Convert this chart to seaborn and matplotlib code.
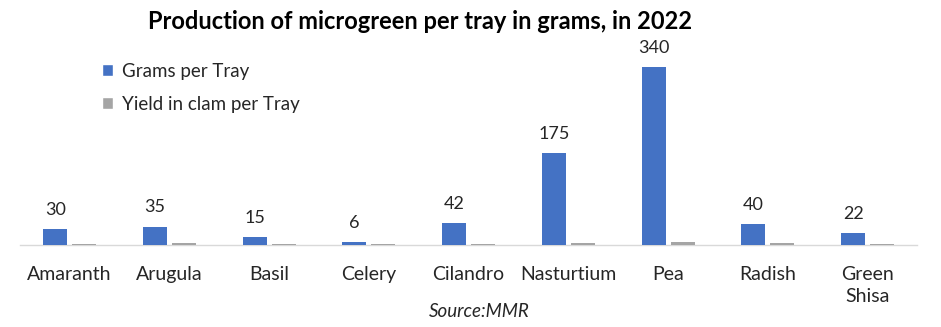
import matplotlib
matplotlib.use("Agg")
import matplotlib.pyplot as plt
import seaborn as sns
import pandas as pd

categories = ["Amaranth", "Arugula", "Basil", "Celery", "Cilandro",
              "Nasturtium", "Pea", "Radish", "Green\nShisa"]
grams_per_tray = [30, 35, 15, 6, 42, 175, 340, 40, 22]
yield_clam_per_tray = [2, 4, 2, 2, 2, 4, 6, 4, 2]
series_names = ["Grams per Tray", "Yield in clam per Tray"]

sns.set_theme(style="white")
plt.rcParams["font.family"] = ["Lato", "DejaVu Sans"]

df = pd.DataFrame({
    "category": categories * 2,
    "value": grams_per_tray + yield_clam_per_tray,
    "series": [series_names[0]] * len(categories) + [series_names[1]] * len(categories),
})

fig = plt.figure(figsize=(9.41, 3.27), dpi=100)
ax = fig.add_axes([0.021, 0.251, 0.954, 0.64])

sns.barplot(data=df, x="category", y="value", hue="series", order=categories,
            hue_order=series_names, palette=["#4472C4", "#A5A5A5"],
            width=0.58, gap=0.17, saturation=1, ax=ax, errorbar=None)
for container in ax.containers:
    for patch in container:
        patch.set_zorder(3)
        patch.set_linewidth(0)
for patch in ax.containers[1]:
    patch.set_antialiased(False)

for patch, val in zip(ax.containers[0], grams_per_tray):
    ax.annotate(f"{val}", (patch.get_x() + patch.get_width() / 2, patch.get_height()),
                xytext=(0, 8), textcoords="offset points", ha="center", va="bottom",
                fontsize=13, color="#262626")

ax.set_ylim(0, 400)
ax.set_xlim(-0.5, len(categories) - 0.5)
ax.set_xlabel("")
ax.set_ylabel("")
ax.set_yticks([])
for s in ["top", "right", "left"]:
    ax.spines[s].set_visible(False)
ax.spines["bottom"].set_color("#D9D9D9")
ax.spines["bottom"].set_linewidth(1)
ax.spines["bottom"].set_zorder(1)
ax.tick_params(axis="x", length=0, labelsize=14, colors="#262626", pad=15)
for lbl in ax.get_xticklabels():
    lbl.set_linespacing(1.35)
    lbl.set_verticalalignment("top")

leg = ax.legend(loc="upper left", bbox_to_anchor=(0.073, 0.95), frameon=False,
                fontsize=13.5, handlelength=0.6, handleheight=0.6,
                labelspacing=0.85, handletextpad=0.45)
for t in leg.get_texts():
    t.set_color("#262626")

fig.text(0.446, 0.935, "Production of microgreen per tray in grams, in 2022",
         ha="center", va="center", fontsize=17, fontweight="bold", color="#000000")
fig.text(0.509, 0.048, "Source:MMR", ha="center", va="center", fontsize=13.5,
         style="italic", color="#262626")

fig.savefig("out.png", dpi=100)
